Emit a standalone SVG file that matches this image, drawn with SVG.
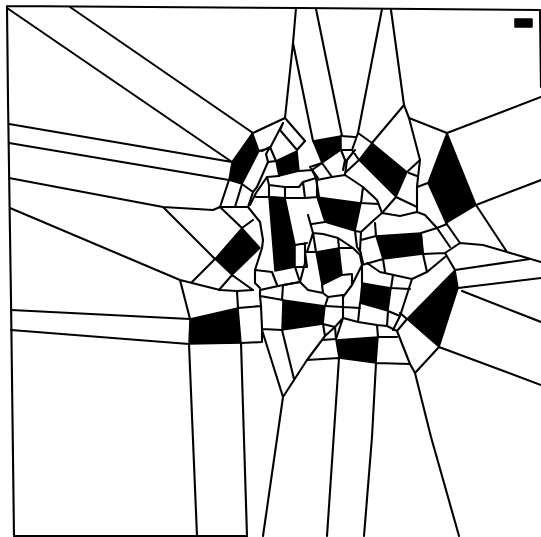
<svg xmlns="http://www.w3.org/2000/svg" width="541" height="537" viewBox="0 0 541 537">
<style>
.e{fill:none;stroke:#000;stroke-width:2.1;stroke-linecap:round;stroke-linejoin:round}
.f{fill:#000;stroke:#000;stroke-width:1.5;stroke-linejoin:round}
</style>
<rect width="541" height="537" fill="#fff"/>
<g id="filled-cells" class="f">
<polygon points="252.5,133 259,151 242,184 229,180 232,162"/>
<polygon points="276,161 297,151 299,171 279,176"/>
<polygon points="269,197 285,198 295,245 295,267 275,271"/>
<polygon points="242,228 260,248 232,275 215,259"/>
<polygon points="190,319 238,308 241,343 189,344"/>
<polygon points="283,300 325,306 323,324 282,330"/>
<polygon points="313,141 341,136 341,150 322,163"/>
<polygon points="372,143 407,172 396,197 359,160"/>
<polygon points="447,133 476,205 446,223 428,183"/>
<polygon points="317,197 361,203 355,231 325,222"/>
<polygon points="376,236 421,233 423,254 383,259"/>
<polygon points="316,252 339,248 342,275 322,285"/>
<polygon points="362,283 391,288 388,311 360,303"/>
<polygon points="455,270 458,288 439,347 407,319"/>
<polygon points="336,340 378,337 376,363 339,358"/>
<rect x="515" y="19" width="17" height="8"/>
</g>
<g id="edges" class="e">
<path d="M7,6L8,100L11,300L14,536L247,536M7,6L300,8L540,10L541,87"/>
<path d="M7,8L232,162M70,7L253,133M9,124L232,162M9,143L229,180M9,178L163,207L213,210L220,207M163,207L215,259M10,208L180,280L220,290L237,291L253,290M180,280L190,319M11,310L190,319M11,330L189,344L197,536M241,343L247,536"/>
<path d="M296,8L293,43L285,118M293,43L313,141M316,9L342,136M382,9L358,133M391,10L404,105L409,118L420,160L418,177L417,187L417,212M404,105L372,143M409,118L447,133L541,97M476,205L541,180"/>
<path d="M253,133L285,118L305,141L297,150L280,130L283,123L270,148L259,151M262,151L270,147L266,154L268,162L257,187L253,192M270,147L276,161M242,184L253,192L248,207L220,207L229,180M242,184L235,207M220,207L242,228L253,220M248,207L260,222L263,240L262,248L255,270L255,283L260,288M255,270L272,272L277,285M232,275L253,290M219,290L232,275M215,259L192,282"/>
<path d="M268,162L276,161M267,177L279,176M267,177L269,185L269,197M267,177L256,193L250,205M256,197L269,197L285,198L305,198L318,197M269,185L285,187L299,187L303,182M285,187L285,198M305,198L303,182M299,171L312,170L316,178L303,182M316,178L319,197M312,170L322,163"/>
<path d="M295,245L307,243M308,215L313,233L323,234L338,238L353,248L360,255L362,265L352,285L343,297M312,224L325,222M313,233L307,252L317,252M316,252L313,233M305,243L305,263L300,282L308,290L323,293L328,297L325,306M295,267L307,267M305,252L307,267M300,282L284,285M295,267L300,282M322,285L323,293M339,248L338,238M339,248L353,248M342,275L352,274L352,285M328,297L343,295"/>
<path d="M260,290L283,285L300,282M283,285L282,300M260,296L283,300M260,290L260,296L261,306L262,328L262,342L241,343M238,308L261,306M237,291L238,308M262,329L282,330M262,330L283,397L263,536M282,330L294,379M283,397L307,360L325,336L335,327L323,324M307,360L339,358L327,536M322,340L336,339L335,327M323,324L325,336"/>
<path d="M343,295L343,318L335,327M325,306L343,307L360,308M343,318L358,322L360,303M343,318L336,339M358,322L377,325L387,326L397,331M377,325L378,337L397,337M387,326L388,311M388,311L400,316M393,330L400,316L412,279L427,272M412,279L380,272L367,263M400,313L407,319M362,265L362,283M391,288L410,289M393,275L391,288M376,363L372,437L364,536M376,363L410,364L415,373L431,437L459,536M397,331L410,364M415,373L439,347L541,385M407,319L397,331"/>
<path d="M455,270L530,259M458,288L541,278M462,291L541,322M460,243L483,245L507,252L541,262M507,252L476,205M446,223L460,243L445,253L455,270M445,253L423,254L427,272L445,257M383,259L385,272M376,236L361,240M361,232L374,220L382,213L396,197M375,223L376,236M382,213L400,216L417,212L425,215L437,228L447,224M437,228L421,233L423,254M437,228L450,247M417,207L396,197M407,172L420,160M409,173L417,176M417,187L428,183M361,232L355,231M355,231L357,247L361,253M361,232L360,250L363,263M362,265L383,259"/>
<path d="M358,133L372,143M341,136L355,137M341,150L352,150M358,133L352,150L359,160M355,150L347,160L345,175L332,177L317,180L317,197M359,160L345,173M341,150L345,160L343,170M322,163L332,177M345,175L363,187L377,200L382,213M363,187L361,203L378,204M322,163L310,167L318,178"/>
</g>
</svg>
